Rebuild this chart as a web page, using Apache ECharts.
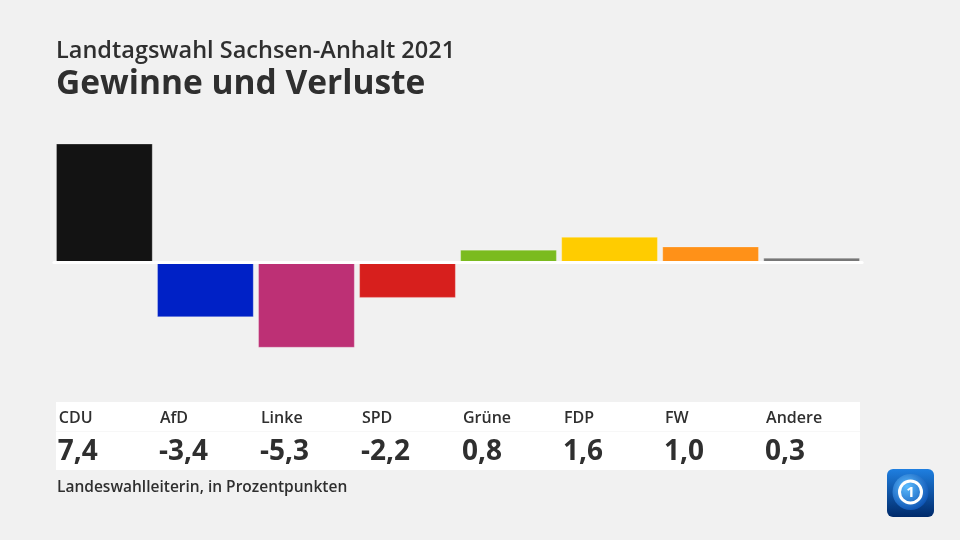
<!DOCTYPE html>
<html>
<head>
<meta charset="utf-8">
<script src="https://cdn.jsdelivr.net/npm/echarts@6/dist/echarts.min.js"></script>
<style>
html,body{margin:0;padding:0;background:#f1f1f1;}
#chart{width:960px;height:540px;}
</style>
</head>
<body>
<div id="chart"></div>
<script>
const categories = ['CDU', 'AfD', 'Linke', 'SPD', 'Grüne', 'FDP', 'FW', 'Andere'];
const values = [7.4, -3.4, -5.3, -2.2, 0.8, 1.6, 1.0, 0.3];
const colors = ['#131313', '#0021c6', '#bd3075', '#d71f1d', '#7bbb1f', '#ffcc00', '#ff9118', '#777777'];
const titleText = 'Landtagswahl Sachsen-Anhalt 2021';
const subtitleText = 'Gewinne und Verluste';
const footerText = 'Landeswahlleiterin, in Prozentpunkten';

const fmt = v => v.toFixed(1).replace('.', ',');
const FONT = '"Open Sans", "Noto Sans", sans-serif';

const chart = echarts.init(document.getElementById('chart'));
chart.setOption({
  backgroundColor: '#f1f1f1',
  animation: false,
  title: [
    { text: titleText, left: 56, top: 39.5, padding: 0, textStyle: { fontFamily: FONT, fontSize: 23.5, fontWeight: 600, color: '#2f2f2f' } },
    { text: subtitleText, left: 56, top: 67, padding: 0, textStyle: { fontFamily: FONT, fontSize: 33.5, fontWeight: 700, color: '#2f2f2f' } },
    { text: footerText, left: 57, top: 480, padding: 0, textStyle: { fontFamily: FONT, fontSize: 15.5, fontWeight: 600, color: '#2f2f2f' } }
  ],
  graphic: [
    { type: 'rect', z: -1, shape: { x: 56, y: 402, width: 804, height: 68 }, style: { fill: '#ffffff' } },
    { type: 'rect', z: -1, shape: { x: 56, y: 431, width: 804, height: 1 }, style: { fill: '#f7f7f7' } },
    { type: 'group', left: 887, top: 469, children: [
      { type: 'rect', shape: { x: 0, y: 0, width: 47, height: 48, r: 6 },
        style: { fill: new echarts.graphic.LinearGradient(0, 0, 0, 1, [{ offset: 0, color: '#1f7fe0' }, { offset: 1, color: '#002a6a' }]) } },
      { type: 'circle', shape: { cx: 23.5, cy: 23, r: 18 },
        style: { fill: new echarts.graphic.RadialGradient(0.4, 0.35, 0.7, [{ offset: 0, color: '#5cbcff' }, { offset: 1, color: '#0a4fb0' }]) } },
      { type: 'circle', shape: { cx: 23.5, cy: 23, r: 11 }, style: { fill: 'none', stroke: '#ffffff', lineWidth: 3 } },
      { type: 'text', style: { x: 23.5, y: 23.5, text: '1', fill: '#ffffff', font: 'bold 15px "Open Sans"', align: 'center', verticalAlign: 'middle' } }
    ] }
  ],
  grid: { left: 53.85, right: 97.85, top: 143.5, height: 238, containLabel: false },
  xAxis: [
    {
      type: 'category', data: categories, z: 5,
      axisLine: { onZero: true, lineStyle: { color: '#ffffff', width: 3 } },
      axisTick: { show: false }, axisLabel: { show: false }, splitLine: { show: false }
    },
    {
      type: 'value', min: 0, max: 8, interval: 1, position: 'bottom',
      axisLine: { show: false }, axisTick: { show: false }, splitLine: { show: false },
      axisLabel: {
        show: true, align: 'left', margin: 22, showMaxLabel: false,
        formatter: v => {
          const i = Math.round(v);
          if (i < 0 || i >= categories.length) return '';
          return '{n|' + categories[i] + '}\n{v|' + fmt(values[i]) + '}';
        },
        rich: {
          n: { fontFamily: FONT, fontSize: 16, fontWeight: 600, color: '#2f2f2f', lineHeight: 30, padding: [0, 0, 0, 5] },
          v: { fontFamily: FONT, fontSize: 28, fontWeight: 700, color: '#2f2f2f', lineHeight: 38, padding: [0, 0, 0, 4] }
        }
      }
    }
  ],
  yAxis: {
    type: 'value', min: -7.4, max: 7.4,
    axisLine: { show: false }, axisTick: { show: false }, axisLabel: { show: false }, splitLine: { show: false }
  },
  series: [{
    type: 'bar', xAxisIndex: 0, barCategoryGap: '4.26%',
    data: values.map((v, i) => ({ value: v, itemStyle: { color: colors[i] } })),
    itemStyle: { borderColor: 'rgba(255,255,255,0.25)', borderWidth: 1 }
  }]
});
</script>
</body>
</html>
